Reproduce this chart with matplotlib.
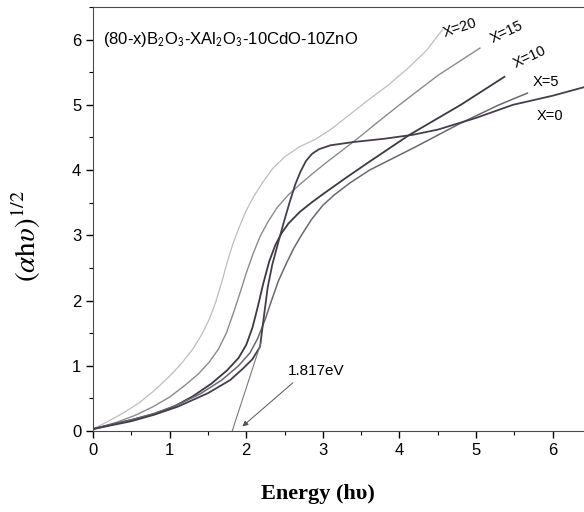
import matplotlib
matplotlib.use("Agg")
import matplotlib.pyplot as plt
from matplotlib.ticker import MultipleLocator

plt.rcParams['font.family'] = ['Liberation Sans', 'DejaVu Sans']
plt.rcParams['mathtext.fontset'] = 'stix'

# Tauc plot data, (alpha h nu)^1/2 vs photon energy, one curve per Al2O3 content
e_x20 = [0, 0.2, 0.4, 0.6, 0.8, 1.0, 1.15, 1.3, 1.42, 1.52, 1.6, 1.68, 1.75, 1.82, 1.9,
         2.0, 2.1, 2.22, 2.35, 2.5, 2.7, 2.9, 3.1, 3.35, 3.6, 3.85, 4.1, 4.35, 4.56]
a_x20 = [0.03, 0.15, 0.28, 0.43, 0.62, 0.84, 1.03, 1.25, 1.48, 1.72, 1.97, 2.28, 2.58, 2.85, 3.1,
         3.38, 3.6, 3.82, 4.03, 4.2, 4.36, 4.47, 4.62, 4.85, 5.08, 5.3, 5.55, 5.83, 6.15]

e_x15 = [0, 0.3, 0.55, 0.78, 1.0, 1.2, 1.38, 1.52, 1.64, 1.74, 1.83, 1.92, 2.0, 2.09,
         2.18, 2.28, 2.4, 2.55, 2.7, 2.87, 3.05, 3.25, 3.45, 3.7, 4.0, 4.5, 5.05]
a_x15 = [0.03, 0.13, 0.24, 0.37, 0.52, 0.7, 0.88, 1.06, 1.26, 1.5, 1.8, 2.12, 2.42, 2.72,
         2.98, 3.2, 3.42, 3.62, 3.78, 3.95, 4.12, 4.3, 4.48, 4.72, 5.0, 5.45, 5.87]

e_x10 = [0, 0.5, 0.8, 1.05, 1.3, 1.55, 1.75, 1.9, 2.0, 2.08, 2.15, 2.22, 2.3, 2.38,
         2.46, 2.55, 2.7, 2.85, 3.0, 3.3, 3.61, 4.13, 4.8, 5.37]
a_x10 = [0.03, 0.17, 0.26, 0.37, 0.53, 0.73, 0.93, 1.12, 1.32, 1.58, 1.9, 2.25, 2.6, 2.85,
         3.03, 3.18, 3.36, 3.5, 3.63, 3.88, 4.13, 4.54, 5.0, 5.43]

e_x5 = [0, 0.5, 0.8, 1.1, 1.4, 1.68, 1.9, 2.05, 2.15, 2.25, 2.33, 2.42, 2.52, 2.62,
        2.72, 2.85, 3.0, 3.15, 3.35, 3.61, 4.2, 4.8, 5.3, 5.67]
a_x5 = [0.03, 0.17, 0.27, 0.4, 0.57, 0.78, 1.0, 1.2, 1.42, 1.72, 2.0, 2.3, 2.56, 2.8,
        3.0, 3.24, 3.46, 3.62, 3.8, 4.0, 4.35, 4.72, 5.0, 5.18]

e_x0 = [0, 0.5, 0.8, 1.1, 1.5, 1.79, 1.96, 2.08, 2.18, 2.23, 2.28, 2.34, 2.42, 2.5, 2.57,
        2.64, 2.71, 2.78, 2.86, 2.95, 3.1, 3.4, 3.8, 4.17, 4.5, 5.0, 5.48, 6.0, 6.5]
a_x0 = [0.03, 0.15, 0.25, 0.37, 0.58, 0.78, 0.96, 1.1, 1.29, 1.75, 2.2, 2.55, 2.9, 3.24, 3.52,
        3.78, 3.98, 4.14, 4.25, 4.32, 4.38, 4.43, 4.48, 4.54, 4.62, 4.8, 5.0, 5.14, 5.3]

# linear fit of the absorption edge, extrapolated to the band gap
gap = 1.817
tan_e = [gap, 2.2]
tan_a = [0, 1.38]

fig = plt.figure(figsize=(5.84, 5.12), dpi=100)
ax = fig.add_axes([93/584, 81/512, 498/584, 424/512])

ax.plot(e_x20, a_x20, color='#bdbdbd', lw=0.9)
ax.plot(e_x15, a_x15, color='#8c8a8e', lw=1.0)
ax.plot(e_x10, a_x10, color='#3e3842', lw=1.3)
ax.plot(e_x5, a_x5, color='#6c6672', lw=1.1)
ax.plot(e_x0, a_x0, color='#463e4c', lw=1.3)
ax.plot(tan_e, tan_a, color='#7a7a7a', lw=0.8)

ax.annotate('', xy=(1.95, 0.07), xytext=(2.61, 0.74),
            arrowprops=dict(arrowstyle='-|>', color='#555555', lw=0.7,
                            mutation_scale=8, shrinkA=0, shrinkB=0))
ax.text(2.54, 0.92, '1.817eV', fontsize=11, va='center', ha='left')

ax.text(0.13, 6.0, r'(80-x)B$_{\mathsf{2}}$O$_{\mathsf{3}}$-XAl$_{\mathsf{2}}$O$_{\mathsf{3}}$-10CdO-10ZnO',
        fontsize=12, va='center', ha='left')

ax.text(4.55, 6.0, 'X=20', fontsize=10.5, rotation=18, ha='left', va='bottom')
ax.text(5.15, 5.9, 'X=15', fontsize=10.5, rotation=25, ha='left', va='bottom')
ax.text(5.46, 5.52, 'X=10', fontsize=10.5, rotation=25, ha='left', va='bottom')
ax.text(5.74, 5.35, 'X=5', fontsize=10.5, ha='left', va='center')
ax.text(5.79, 4.83, 'X=0', fontsize=10.5, ha='left', va='center')

ax.set_xlim(0, 6.5)
ax.set_ylim(0, 6.5)
ax.xaxis.set_major_locator(MultipleLocator(1))
ax.xaxis.set_minor_locator(MultipleLocator(0.5))
ax.yaxis.set_major_locator(MultipleLocator(1))
ax.yaxis.set_minor_locator(MultipleLocator(0.5))
ax.tick_params(which='major', direction='out', length=5, width=1, labelsize=12)
ax.tick_params(which='minor', direction='out', length=3, width=0.8)
for s in ax.spines.values():
    s.set_color('#4a4a4a')
ax.spines['right'].set_visible(False)

ax.set_xlabel('Energy (hυ)', family=['Liberation Serif', 'DejaVu Serif'],
              fontweight='bold', fontsize=16)
ax.xaxis.set_label_coords(0.452, -0.125)
ax.set_ylabel(r'$(\alpha\mathrm{h}\upsilon)^{1/2}$', fontsize=21)
ax.yaxis.set_label_coords(-0.1, 0.46)

fig.savefig('out.png', dpi=100)
